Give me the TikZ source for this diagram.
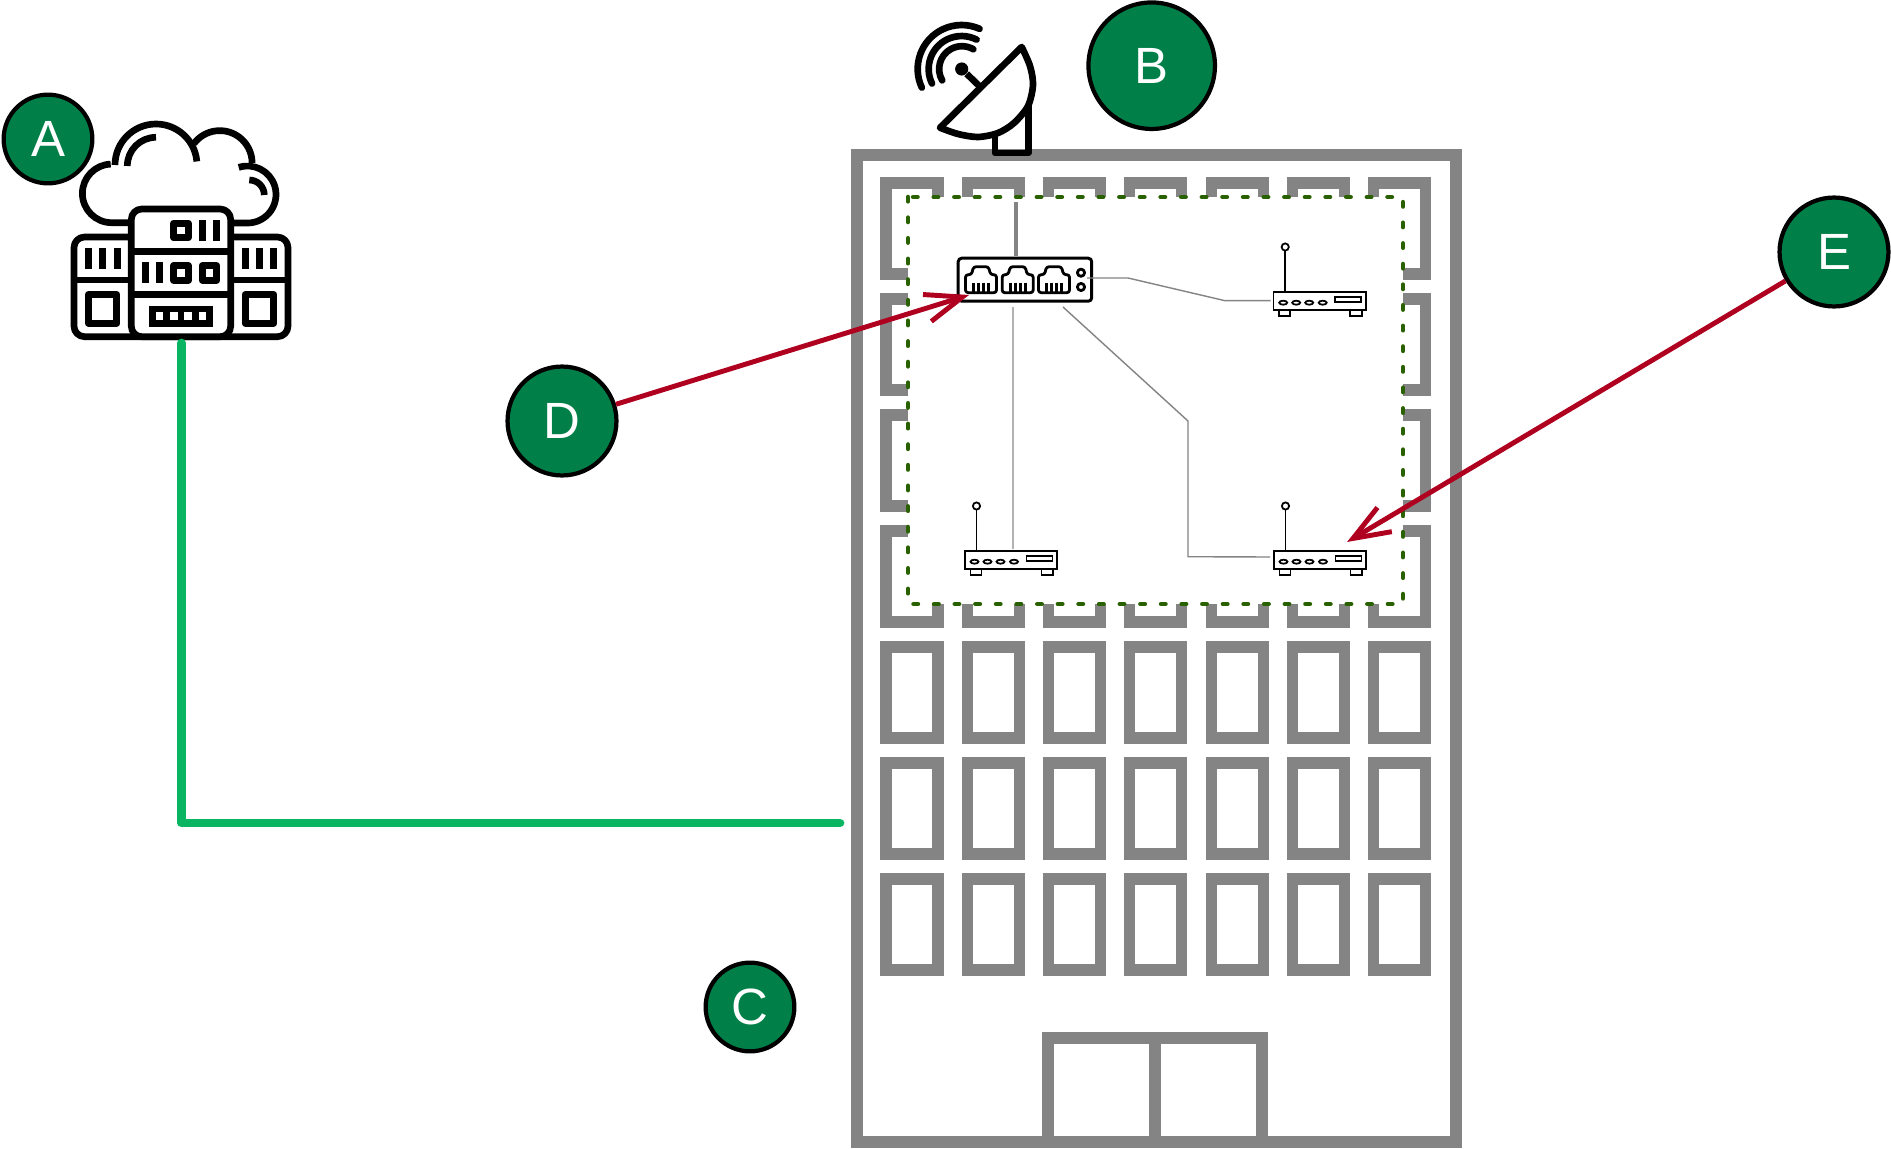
\documentclass[tikz,border=0pt]{standalone}
\usepackage{fontspec}
\setmainfont{Liberation Sans}
\usetikzlibrary{arrows.meta, positioning, calc}
\definecolor{wallgray}{HTML}{848484}
\definecolor{badgegreen}{HTML}{008048}
\definecolor{wiregreen}{HTML}{0AB562}
\definecolor{dashgreen}{HTML}{2A6100}
\definecolor{arrowred}{HTML}{B00020}
\tikzset{
    badge/.style={draw=black, fill=badgegreen, circle, line width=2.4pt, text=white, inner sep=0pt, font=\fontsize{29}{29}\selectfont},
    wall/.style={draw=wallgray, line width=6.3pt},
    icon/.style={draw=black, line width=3.8pt, line join=round},
    thinicon/.style={draw=black, line width=1pt},
    portline/.style={draw=black, line width=1.6pt, line join=round},
    link/.style={draw=wallgray, line width=0.8pt},
    pointer/.style={draw=arrowred, line width=2.8pt, -{Straight Barb[length=21pt,width=16pt]}},
    router/.pic={
        \node[thinicon, rectangle, minimum width=52.4pt, minimum height=10.4pt, inner sep=0pt, anchor=north west] (-body) at (0,0) {};
        \draw[thinicon] (6.5,19) rectangle (17.5,25);
        \draw[thinicon] (77.5,19) rectangle (89,25);
        \draw[thinicon] (12.5,0) -- (12.5,-40);
        \draw[thinicon, fill=white] (12.5,-44) circle (3.6);
        \foreach \ledx in {10.5,23.5,36.5,50}
            \draw[thinicon] (\ledx,11.7) ellipse (4 and 2);
        \draw[thinicon] (62.5,5.7) rectangle (88.5,11);
    },
    rjport/.pic={
        \draw[portline, rounded corners=1.5pt] (0,27) -- (0,9) -- (6,9) -- (8,1) -- (23,1) -- (25,9) -- (31,9) -- (31,27) -- cycle;
        \foreach \pinx in {8,13,18,23}
            \draw[portline] (\pinx,17) -- (\pinx,27);
    }
}
\begin{document}
\begin{tikzpicture}[x=0.02cm, y=-0.02cm]
\useasboundingbox (0,0) rectangle (1891,1149);

% building
\draw[wall] (857,155) rectangle (1456,1142);
\foreach \col in {0,...,6}
    \foreach \row in {0,...,6}
        \draw[wall] ({886+81.3*\col},{183+116*\row}) rectangle ++(52,91);
\draw[wall] (1048,1038) rectangle (1262,1142);
\draw[wall] (1155,1038) -- (1155,1142);
\fill[white] (908,197) rectangle (1403,604);
\draw[dashgreen, line width=2.6pt, line cap=round, dash pattern=on 2.5pt off 9.24pt] (908,197) rectangle (1403,604);

% dish
\draw[icon, line cap=round] (995,137) -- (995,153) -- (1028.3,153) -- (1028.3,105);
\draw[icon, fill=white] plot[smooth] coordinates {(1021.7,47) (1030,66) (1033,85) (1028,106) (1014,123) (998,133) (978,137) (958,134) (940,127.7)} -- cycle;
\node[fill=black, circle, minimum size=7.5pt, inner sep=0pt] (feed) at (961.7,69) {};
\draw[icon] (feed) -- (980,86.7);
\draw[icon, line cap=round] (942.2,80.4) arc (150:300:22.8);
\draw[icon, line cap=round] (932,83.5) arc (154:297:33);
\draw[icon, line cap=round] (921.8,87.6) arc (155:294:44);

% cloud and servers
\draw[icon, line join=miter] (128.3,222.7) -- (111.7,222.7) arc (90:268:29.3);
\draw[icon] (115,165) arc (180:355:41);
\draw[icon] (194,143.5) arc (217:360:32.3);
\draw[icon] (238.7,167.4) arc (252:450:28.5) -- (231,223);
\draw[icon] (127.3,166) arc (180:270:28.7);
\draw[icon] (249.3,180) arc (270:360:15);
\draw[icon, rounded corners=6pt, fill=white] (74,237) rectangle (288,336.7);
\draw[icon, rounded corners=6pt, fill=white] (131.3,209) rectangle (230.7,336.7);
\draw[icon] (131.3,251.7) -- (230.7,251.7);
\draw[icon] (131.3,294.3) -- (230.7,294.3);
\draw[icon] (74,280) -- (131.3,280);
\draw[icon] (230.7,280) -- (288,280);
\foreach \barx/\bartop in {202.5/220,216.5/220,145.3/262.3,159.7/262.3,88.5/248.3,102.7/248.3,117/248.3,245.3/248.3,259.5/248.3,273.7/248.3}
    \fill[black] ({\barx-3.5},\bartop) rectangle ++(7,21);
\foreach \sqx/\sqy/\sqw in {173.7/223.3/14.6,173.7/265.7/14.6,202.3/265.7/14.4}
    \draw[icon, line width=4pt] (\sqx,\sqy) rectangle ++(\sqw,14.4);
\draw[icon, line width=4pt] (88.5,294.5) rectangle (116.8,323.2);
\draw[icon, line width=4pt] (245.2,294.5) rectangle (273.8,323.2);
\fill[black] (149,305.7) rectangle (213,326.7);
\foreach \holex in {156,170.3,184.3,198.7}
    \fill[white] (\holex,312.3) rectangle ++(7.3,7.3);

% network devices
\node[draw=black, line width=1.7pt, rounded corners=2pt, minimum width=76pt, minimum height=24.5pt, inner sep=0pt, anchor=north west] (switch) at (956.7,256.7) {};
\pic at (965.5,265.7) {rjport};
\pic at (1002.2,265.7) {rjport};
\pic at (1038.5,265.7) {rjport};
\draw[portline] (1081,272.7) circle (3.6);
\draw[portline] (1081,287) circle (3.6);
\pic (apTR) at (1272.7,291) {router};
\pic (apBL) at (964,550) {router};
\pic (apBR) at (1273,550) {router};

% links between devices
\draw[link, line width=2.2pt] (1015.7,202) -- (1015.7,256);
\draw[link] (1087,278) -- (1128,278) -- (1225,300.7) -- (1270.7,300.7);
\draw[link, draw=gray!60, line width=1.1pt] (1012.7,307) -- (1012.7,549);
\draw[link] (1063,307) -- (1188,421) -- (1188,556.7) -- (1270,557);

% main line
\coordinate (wireEnd) at (840,823);
\draw[draw=wiregreen, line width=5pt, line cap=round, line join=round] (181.5,343) |- (wireEnd);

% labels
\node[badge, minimum size=50.5pt] (A) at (48,139) {A};
\node[badge, minimum size=72pt] (B) at (1151.7,65.7) {B};
\node[badge, minimum size=50.5pt] (C) at (750,1007) {C};
\node[badge, minimum size=62pt] (D) at (562,421) {D};
\node[badge, minimum size=62pt] (E) at (1834,252) {E};

\coordinate (tipD) at (969,295);
\coordinate (tipE) at (1347,542);
\draw[pointer] (D) -- (tipD);
\draw[pointer] (E) -- (tipE);
\end{tikzpicture}
\end{document}
